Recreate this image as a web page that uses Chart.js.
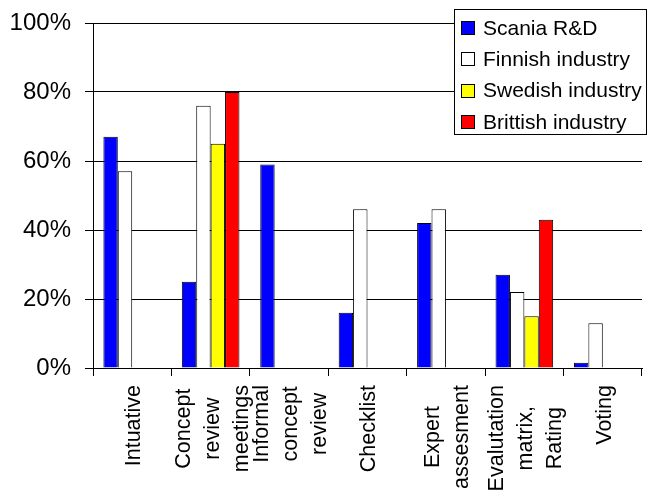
<!DOCTYPE html>
<html>
<head>
<meta charset="utf-8">
<script src="https://cdn.jsdelivr.net/npm/chart.js@4/dist/chart.umd.min.js"></script>
<style>
  html, body { margin: 0; padding: 0; background: #fff; }
  #wrap { width: 647px; height: 491px; }
</style>
</head>
<body>
<div id="wrap"><canvas id="c" width="647" height="491"></canvas></div>
<script>
// Category labels (one entry per line of the wrapped label)
const categories = [
  ['Intuative'],
  ['Concept', 'review', 'meetings'],
  ['Informal', 'concept', 'review'],
  ['Checklist'],
  ['Expert', 'assesment'],
  ['Evalutation', 'matrix,', 'Rating'],
  ['Voting']
];

// Share of respondents per method (%)
const scaniaRD = [67, 25, 59, 16, 42, 27, 1.5];
const finnishIndustry = [57, 76, null, 46, 46, 22, 13];
const swedishIndustry = [null, 65, null, null, null, 15, null];
const brittishIndustry = [null, 80, null, null, null, 43, null];

const seriesNames = ['Scania R&D', 'Finnish industry', 'Swedish industry', 'Brittish industry'];
const seriesColors = ['#0000FF', '#FFFFFF', '#FFFF00', '#FF0000'];

const yTicks = [0, 20, 40, 60, 80, 100];

const FONT = '"Liberation Sans", Arial, sans-serif';

// Legend box drawn over the plot, top right
const boxLegend = {
  id: 'boxLegend',
  afterDraw(chart) {
    const ctx = chart.ctx;
    const x0 = 454.5, y0 = 9.5, w = 192, h = 125;
    ctx.save();
    ctx.fillStyle = '#fff';
    ctx.fillRect(x0, y0, w, h);
    ctx.strokeStyle = '#000';
    ctx.lineWidth = 1;
    ctx.strokeRect(x0, y0, w, h);
    ctx.font = '21px ' + FONT;
    ctx.textBaseline = 'alphabetic';
    ctx.textAlign = 'left';
    chart.data.datasets.forEach((ds, i) => {
      const cy = 27.5 + i * 31.4;
      ctx.fillStyle = ds.backgroundColor;
      ctx.fillRect(461.5, Math.round(cy - 6.5) + 0.5, 13, 13);
      ctx.strokeStyle = '#000';
      ctx.strokeRect(461.5, Math.round(cy - 6.5) + 0.5, 13, 13);
      ctx.fillStyle = '#000';
      ctx.fillText(ds.label, 483, cy + 7);
    });
    ctx.restore();
  }
};

// Rotated, centre-aligned multi-line category labels under the x axis
const rotatedLabels = {
  id: 'rotatedLabels',
  afterDraw(chart) {
    const ctx = chart.ctx;
    const xs = chart.scales.x;
    const lineGap = 29;
    const topY = 385;
    ctx.save();
    ctx.font = '21.5px ' + FONT;
    ctx.fillStyle = '#000';
    ctx.textAlign = 'center';
    ctx.textBaseline = 'middle';
    chart.data.labels.forEach((lines, i) => {
      const cx = xs.getPixelForValue(i) + 2;
      const maxW = Math.max(...lines.map(l => ctx.measureText(l).width));
      const cy = topY + maxW / 2;
      lines.forEach((line, j) => {
        const lx = cx + (j - (lines.length - 1) / 2) * lineGap;
        ctx.save();
        ctx.translate(lx, cy);
        ctx.rotate(-Math.PI / 2);
        ctx.fillText(line, 0, 0);
        ctx.restore();
      });
    });
    ctx.restore();
  }
};

const seriesData = [scaniaRD, finnishIndustry, swedishIndustry, brittishIndustry];

new Chart(document.getElementById('c'), {
  type: 'bar',
  data: {
    labels: categories,
    datasets: seriesData.map((d, i) => ({
      label: seriesNames[i],
      data: d,
      backgroundColor: seriesColors[i],
      borderColor: '#000',
      borderWidth: 1,
      barPercentage: 1,
      categoryPercentage: 0.735
    }))
  },
  options: {
    responsive: false,
    animation: false,
    layout: { padding: { top: 23, right: 5, left: 0, bottom: 0 } },
    plugins: {
      legend: { display: false },
      tooltip: { enabled: false }
    },
    scales: {
      x: {
        offset: true,
        grid: {
          display: true,
          drawOnChartArea: false,
          drawTicks: true,
          tickLength: 8,
          color: '#000',
          offset: true
        },
        border: { display: true, color: '#000', width: 1 },
        ticks: { display: false },
        afterFit(scale) { scale.height = 123; }
      },
      y: {
        min: 0,
        max: 100,
        afterBuildTicks(scale) {
          scale.ticks = yTicks.map(v => ({ value: v }));
        },
        ticks: {
          callback: v => v + '%',
          color: '#000',
          font: { family: FONT, size: 24 },
          padding: 14
        },
        grid: {
          color: '#000',
          lineWidth: 1,
          tickLength: 8,
          drawTicks: true
        },
        border: { display: true, color: '#000', width: 1 },
        afterFit(scale) {
          scale.width = 93;
          scale.paddingTop = 0;
          scale.paddingBottom = 0;
        }
      }
    }
  },
  plugins: [boxLegend, rotatedLabels]
});
</script>
</body>
</html>
